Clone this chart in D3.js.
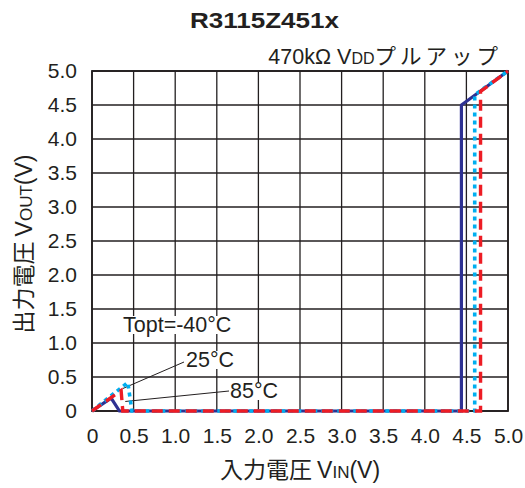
<!DOCTYPE html>
<html><head><meta charset="utf-8">
<script src="https://cdn.jsdelivr.net/npm/d3@7"></script>
<style>body{margin:0;background:#fff}svg{display:block;font-family:"Liberation Sans",Arial,sans-serif}</style>
</head><body><svg id="c" width="525" height="488"></svg>
<script>
const xTicks = [0,0.5,1.0,1.5,2.0,2.5,3.0,3.5,4.0,4.5,5.0];
const yTicks = [0,0.5,1.0,1.5,2.0,2.5,3.0,3.5,4.0,4.5,5.0];
const tickLabels = ["0","0.5","1.0","1.5","2.0","2.5","3.0","3.5","4.0","4.5","5.0"];
const seriesNames = ["85°C","25°C","Topt=-40°C"];
const vinNavy = [0,0.23,0.33,4.44,4.44,5.0];
const voutNavy = [0,0.19,0,0,4.5,5.0];
const vinBlue = [0,0.43,0.48,4.6,4.6,5.0];
const voutBlue = [0,0.42,0,0,4.65,5.0];
const vinRed = [0,0.35,0.37,4.67,4.67,5.0];
const voutRed = [0,0.30,0,0,4.7,5.0];

const svg = d3.select("#c");
const L=92,R=508,T=71,B=411;
const x = d3.scaleLinear().domain([0,5]).range([L,R]);
const y = d3.scaleLinear().domain([0,5]).range([B,T]);
const ink = "#231f20";

// grid
const g = svg.append("g");
g.selectAll(".vx").data(xTicks).enter().append("line")
 .attr("x1",d=>x(d)).attr("x2",d=>x(d)).attr("y1",T).attr("y2",B)
 .attr("stroke",ink).attr("stroke-width",1.3);
g.selectAll(".hy").data(yTicks).enter().append("line")
 .attr("x1",L).attr("x2",R).attr("y1",d=>y(d)).attr("y2",d=>y(d))
 .attr("stroke",ink).attr("stroke-width",1.3);
svg.append("rect").attr("x",L).attr("y",T).attr("width",R-L).attr("height",B-T)
 .attr("fill","none").attr("stroke",ink).attr("stroke-width",1.8);

// axes labels via d3 axes
const fmt = (d,i)=>tickLabels[i];
const xa = svg.append("g").attr("transform",`translate(0,${B})`)
 .call(d3.axisBottom(x).tickValues(xTicks).tickFormat(fmt).tickSize(0).tickPadding(17));
const ya = svg.append("g").attr("transform",`translate(${L},0)`)
 .call(d3.axisLeft(y).tickValues(yTicks).tickFormat(fmt).tickSize(0).tickPadding(15));
[xa,ya].forEach(a=>{a.select(".domain").remove();
 a.attr("font-size",21).attr("font-family","Liberation Sans, Arial, sans-serif");
 a.selectAll("text").attr("fill",ink);});

// annotation labels with white background
const annG = svg.append("g");
function label(tx,ty,txt){
  const grp = annG.append("g");
  const bgR = grp.append("rect").attr("fill","#fff");
  const t = grp.append("text").attr("x",tx).attr("y",ty).attr("font-size",21.5).attr("fill",ink).text(txt);
  const bb = t.node().getBBox();
  bgR.attr("x",bb.x-1).attr("y",bb.y+3).attr("width",bb.width+2).attr("height",bb.height-6);
}
label(123,332,seriesNames[2]);
// leader lines
annG.append("line").attr("x1",184).attr("y1",362).attr("x2",x(0.37)).attr("y2",y(0.33)).attr("stroke",ink).attr("stroke-width",1);
annG.append("line").attr("x1",229).attr("y1",391).attr("x2",x(0.4)).attr("y2",y(0.14)).attr("stroke",ink).attr("stroke-width",1);
label(186,367,seriesNames[1]);
label(230,398,seriesNames[0]);

// series
const line = d3.line().x(d=>x(d[0])).y(d=>y(d[1]));
function draw(vx,vy,color,dash,w){
  svg.append("path").datum(vx.map((v,i)=>[v,vy[i]])).attr("d",line)
   .attr("fill","none").attr("stroke",color).attr("stroke-width",w)
   .attr("stroke-dasharray",dash).attr("stroke-linejoin","miter");
}
draw(vinNavy,voutNavy,"#2e3192",null,3.2);
draw(vinBlue,voutBlue,"#00aeef","4,4",3.6);
draw(vinRed,voutRed,"#ed1c24","11,6",3.4);

// titles
svg.append("text").attr("x",190).attr("y",28).attr("font-size",22).attr("font-weight","bold")
 .attr("textLength",149).attr("lengthAdjust","spacingAndGlyphs").attr("fill",ink).text("R3115Z451x");
const st = svg.append("text").attr("x",502).attr("y",64).attr("text-anchor","end").attr("font-size",21.5).attr("fill",ink);
st.append("tspan").text("470kΩ V");
st.append("tspan").attr("font-size",16).text("DD");
st.append("tspan").attr("font-family","Noto Sans CJK JP").attr("letter-spacing",4).text("プルアップ");

const xl = svg.append("text").attr("x",300).attr("y",478).attr("text-anchor","middle").attr("font-size",23).attr("fill",ink);
xl.append("tspan").attr("font-family","Noto Sans CJK JP").text("入力電圧 ");
xl.append("tspan").text("V");
xl.append("tspan").attr("font-size",17).text("IN");
xl.append("tspan").text("(V)");

const yl = svg.append("text").attr("transform","translate(32,244) rotate(-90)").attr("text-anchor","middle").attr("font-size",23).attr("fill",ink);
yl.append("tspan").attr("font-family","Noto Sans CJK JP").text("出力電圧 ");
yl.append("tspan").text("V");
yl.append("tspan").attr("font-size",17).text("OUT");
yl.append("tspan").text("(V)");
</script></body></html>
